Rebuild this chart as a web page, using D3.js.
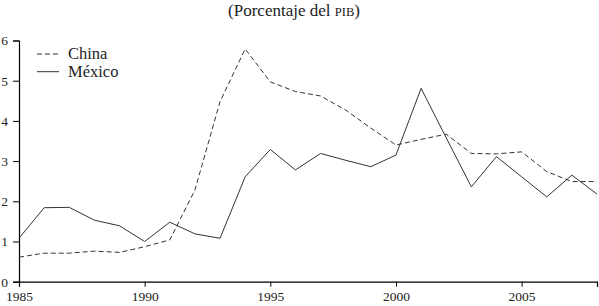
<!DOCTYPE html>
<html>
<head>
<meta charset="utf-8">
<script src="https://cdn.jsdelivr.net/npm/d3@7"></script>
<style>
  html, body { margin: 0; padding: 0; background: #fff; }
  svg { display: block; }
  text { font-family: "Liberation Serif", "DejaVu Serif", serif; fill: #222; }
</style>
</head>
<body>
<svg id="chart" width="599" height="306"></svg>
<script>
const years = d3.range(1985, 2009);
const china = [0.61, 0.71, 0.71, 0.76, 0.73, 0.87, 1.04, 2.28, 4.48, 5.79, 4.97, 4.73, 4.62, 4.27, 3.82, 3.40, 3.54, 3.67, 3.19, 3.18, 3.23, 2.74, 2.49, 2.49];
const mexico = [1.08, 1.84, 1.85, 1.53, 1.39, 1.00, 1.48, 1.19, 1.08, 2.61, 3.29, 2.78, 3.19, 3.02, 2.86, 3.15, 4.81, 3.58, 2.36, 3.11, 2.61, 2.11, 2.65, 2.18];
const xTickValues = [1985, 1990, 1995, 2000, 2005, 2008];
const xTickLabels = ["1985", "1990", "1995", "2000", "2005", ""];
const yTickValues = [0, 1, 2, 3, 4, 5, 6];
const seriesNames = ["China", "México"];

const svg = d3.select("#chart");
const x = d3.scaleLinear().domain([1985, 2008]).range([19, 597]);
const y = d3.scaleLinear().domain([0, 6]).range([281.7, 40.5]);

// Title
const title = svg.append("text")
  .attr("x", 294).attr("y", 16)
  .attr("text-anchor", "middle")
  .style("font-size", "17px");
title.append("tspan").text("(Porcentaje del ");
title.append("tspan").style("font-size", "12.5px").text("PIB");
title.append("tspan").text(")");

// X axis
const xAxis = d3.axisBottom(x)
  .tickValues(xTickValues)
  .tickFormat((d, i) => xTickLabels[i])
  .tickSize(5)
  .tickPadding(5);
const gx = svg.append("g").attr("transform", `translate(0,${y(0)})`).call(xAxis);
gx.select(".domain").attr("stroke", "#000").attr("stroke-width", 1.2);
gx.selectAll(".tick line").attr("stroke", "#000");
gx.selectAll(".tick text").style("font-size", "13.5px").style("font-family", "'Liberation Serif', serif").attr("fill", "#333");

// Y axis
const yAxis = d3.axisLeft(y)
  .tickValues(yTickValues)
  .tickFormat(d3.format("d"))
  .tickSize(6)
  .tickPadding(5);
const gy = svg.append("g").attr("transform", `translate(${x(1985)},0)`).call(yAxis);
gy.select(".domain").attr("stroke", "#000").attr("stroke-width", 1.2);
gy.selectAll(".tick line").attr("stroke", "#000");
gy.selectAll(".tick text").style("font-size", "13.5px").style("font-family", "'Liberation Serif', serif").attr("fill", "#333");

// Lines
const line = d3.line().x((d, i) => x(years[i])).y(d => y(d));
svg.append("path").datum(china)
  .attr("d", line).attr("fill", "none")
  .attr("stroke", "#333").attr("stroke-width", 1)
  .attr("stroke-dasharray", "5,3");
svg.append("path").datum(mexico)
  .attr("d", line).attr("fill", "none")
  .attr("stroke", "#333").attr("stroke-width", 1);

// Legend
const legend = svg.append("g");
const legendY = [54, 71.7];
seriesNames.forEach((name, i) => {
  legend.append("line")
    .attr("x1", 37).attr("x2", 59)
    .attr("y1", legendY[i]).attr("y2", legendY[i])
    .attr("stroke", "#333").attr("stroke-width", 1)
    .attr("stroke-dasharray", i === 0 ? "5,3" : null);
  legend.append("text")
    .attr("x", 68).attr("y", legendY[i] + 5)
    .style("font-size", "16.5px")
    .text(name);
});
</script>
</body>
</html>
